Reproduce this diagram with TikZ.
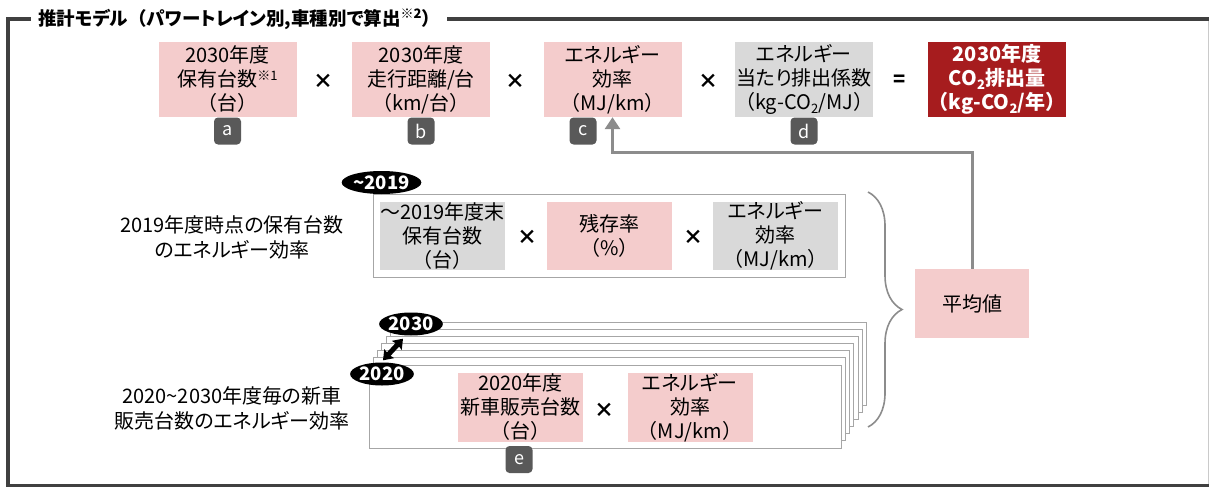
\documentclass[tikz,border=0pt]{standalone}
\usepackage{fontspec}
\setmainfont{Noto Sans CJK JP}[RawFeature=+palt]
\newfontfamily\widefont{Noto Sans CJK JP}
\usepackage{xcolor}
\usetikzlibrary{
  arrows.meta,
  shapes.geometric,
  positioning,
  calc,
  decorations.pathreplacing
}
\definecolor{xpink}{RGB}{244,204,204}
\definecolor{xgray}{RGB}{217,217,217}
\definecolor{xred}{RGB}{166,28,30}
\definecolor{xtag}{RGB}{89,89,89}
\definecolor{xframe}{RGB}{64,64,64}
\definecolor{xline}{RGB}{140,140,140}
\definecolor{xlayer}{RGB}{166,166,166}
\newcommand\lowtwo{\raisebox{-0.35ex}{\fontsize{13}{13}\selectfont 2}}
\newcommand\refmark[1]{\raisebox{0.6ex}{\fontsize{13}{13}\selectfont #1}}
\newcommand\wlp{{\widefont （}}
\newcommand\wrp{{\widefont ）}}

\begin{document}
\begin{tikzpicture}[x=1pt, y=-1pt,
  cell/.style={fill=#1, minimum width=138pt, minimum height=75pt, inner sep=0pt,
               align=center, font=\fontsize{20}{24}\selectfont},
  subcell/.style={cell=#1, minimum width=125pt, minimum height=68pt},
  layer/.style={draw=xlayer, fill=white, line width=1pt,
                minimum width=472pt, minimum height=83pt, inner sep=0pt},
  tag/.style={fill=xtag, text=white, rounded corners=4pt, minimum size=27pt,
              inner sep=0pt, font=\fontsize{18}{18}\selectfont},
  op/.style={inner sep=0pt, font=\bfseries\fontsize{20}{20}\selectfont},
  year/.style={ellipse, fill=black, text=white, inner sep=0pt,
               minimum width=#1, minimum height=23pt, font=\bfseries\fontsize{18.5}{18.5}\selectfont},
  desc/.style={align=center, inner sep=0pt, font=\fontsize{20}{25}\selectfont},
  arr/.style={xline, line width=3pt, -{Triangle[width=15pt,length=12pt]}},
  dbl/.style={draw=black, line width=5pt, {Stealth[length=9pt,width=13pt,inset=1pt]}-{Stealth[length=9pt,width=13pt,inset=1pt]}},
  brc/.style={xline, line width=1.6pt, decorate, decoration={brace, amplitude=34pt}}
]
  \useasboundingbox (0,0) rectangle (1209,487);

  \draw[xlayer!60, line width=1pt] (1208,19) -- (1208,485);
  \draw[xframe, line width=3.5pt] (1209,19) -- (8,19) -- (8,485.5) -- (1209,485.5);
  \node[anchor=west, fill=white, inner xsep=7pt, inner ysep=2pt,
        font=\bfseries\fontsize{18.5}{18.5}\selectfont] (title) at (31,19)
        {推計モデル\wlp パワートレイン別,車種別で算出\refmark{※2}\wrp};

  \node[cell=xpink] (a) at (227.5,79.5) {2030年度\\保有台数\refmark{※1}\\\wlp 台\wrp};
  \node[cell=xpink] (b) at (421,79.5) {2030年度\\走行距離/台\\\wlp km/台\wrp};
  \node[cell=xpink] (c) at (612.5,79.5) {エネルギー\\効率\\\wlp MJ/km\wrp};
  \node[cell=xgray] (d) at (804,79.5) {エネルギー\\当たり排出係数\\\wlp kg-CO\lowtwo/MJ\wrp};
  \node[cell=xred, text=white, font=\bfseries\fontsize{20}{24}\selectfont] (co2) at (997,79.5)
        {2030年度\\CO\lowtwo 排出量\\\wlp kg-CO\lowtwo/年\wrp};
  \node[op] (m1) at (323,81) {×};
  \node[op] (m2) at (515.5,81) {×};
  \node[op] (m3) at (708.5,81) {×};
  \node[op] (eq) at (900,81) {=};

  \foreach \n/\x in {a/227.5, b/421, d/804}
    \node[tag] (t\n) at (\x,131) {\n};
  \node[tag] (tc) at (583,131) {c};

  \node[desc] (olddesc) at (232,237.5) {2019年度時点の保有台数\\のエネルギー効率};
  \node[layer] (old) at (609,235.5) {};
  \node[subcell=xgray] (stock) at (442.5,236) {\makebox[125pt]{～2019年度末}\\保有台数\\\wlp 台\wrp};
  \node[op] (m4) at (527,237) {×};
  \node[subcell=xpink] (surv) at (609.5,236) {残存率\\\wlp\%\wrp};
  \node[op] (m5) at (693,237) {×};
  \node[subcell=xgray] (eff1) at (775.5,236) {エネルギー\\効率\\\wlp MJ/km\wrp};
  \node[year=72pt] (y2019) at (381.5,182.5) {\textasciitilde2019};

  \node[desc] (newdesc) at (232,408) {2020\textasciitilde2030年度毎の新車\\販売台数のエネルギー効率};
  \foreach \i in {6,...,0}
    \node[layer] (new\i) at ({605+4.3*\i},{406.5-7.15*\i}) {};
  \node[subcell=xpink, minimum height=69pt] (sales) at (520.5,407.5) {2020年度\\新車販売台数\\\wlp 台\wrp};
  \node[op] (m6) at (604,410) {×};
  \node[subcell=xpink, minimum height=69pt] (eff2) at (690,407.5) {エネルギー\\効率\\\wlp MJ/km\wrp};
  \node[tag] (te) at (519,459.5) {e};
  \node[year=58pt] (y2030) at (411,324) {2030};
  \node[year=60pt] (y2020) at (382,374) {2020};
  \draw[dbl] ([xshift=1pt,yshift=2pt]y2020.north) -- ([xshift=-8pt,yshift=-3pt]y2030.south);

  \node[cell=xpink, minimum width=114pt, minimum height=69pt] (avg) at (972,303.5) {平均値};
  \draw[brc] (868,192) -- (868,427);
  \coordinate (bend) at (972,152);
  \draw[arr] (avg.north) -- (bend) -| (c.south);
\end{tikzpicture}
\end{document}
